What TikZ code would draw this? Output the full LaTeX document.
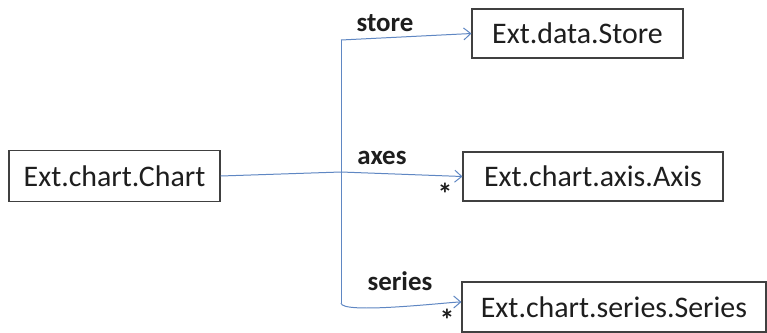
\documentclass[tikz,border=0pt]{standalone}
\usepackage{fontspec}
\setmainfont{Carlito}
\usetikzlibrary{arrows.meta}
\definecolor{linkblue}{RGB}{95,135,195}
\definecolor{ink}{RGB}{30,30,30}
\begin{document}
\begin{tikzpicture}[x=1bp,y=-1bp,
  classbox/.style={draw=ink!85,line width=1.1pt,text=ink,font=\fontsize{30}{32}\selectfont,
    inner sep=0pt,anchor=center},
  rolelabel/.style={text=ink,font=\bfseries\fontsize{27}{29}\selectfont,inner sep=0pt},
  mult/.style={text=ink,font=\bfseries\fontsize{30}{30}\selectfont,inner sep=0pt},
  link/.style={draw=linkblue,line width=1pt},
  assoc/.style={link,-{Straight Barb[length=7bp,width=12bp,line width=1pt]}}]
\useasboundingbox[fill=white] (0,0) rectangle (767,332);
% classes
\node[classbox,minimum width=211bp,minimum height=51bp] (chart) at (114.5,176) {Ext.chart.Chart};
\node[classbox,minimum width=211bp,minimum height=49bp] (store) at (577.5,33.5) {Ext.data.Store};
\node[classbox,minimum width=260bp,minimum height=49bp] (axis) at (593,176.5) {Ext.chart.axis.Axis};
\node[classbox,minimum width=304bp,minimum height=50bp] (series) at (614,307) {Ext.chart.series.Series};
% branching connector
\coordinate (hub) at (341,172);
\coordinate (top) at (341,40);
\coordinate (bottom) at (341,303);
\draw[link] (chart.east) -- (hub);
\draw[link] (top) -- (bottom);
\draw[assoc] (top) -- (store.west);
\draw[assoc] (hub) -- (axis.west);
\draw[assoc] (bottom) to[out=-90,in=180,looseness=0.25] ([yshift=5bp]series.west);
% role names and multiplicities
\node[rolelabel] (lstore) at (385,23) {store};
\node[rolelabel] (laxes) at (382,158) {axes};
\node[rolelabel] (lseries) at (400,281) {series};
\node[mult] (maxes) at (445,194) {*};
\node[mult] (mseries) at (447,320) {*};
\end{tikzpicture}
\end{document}
